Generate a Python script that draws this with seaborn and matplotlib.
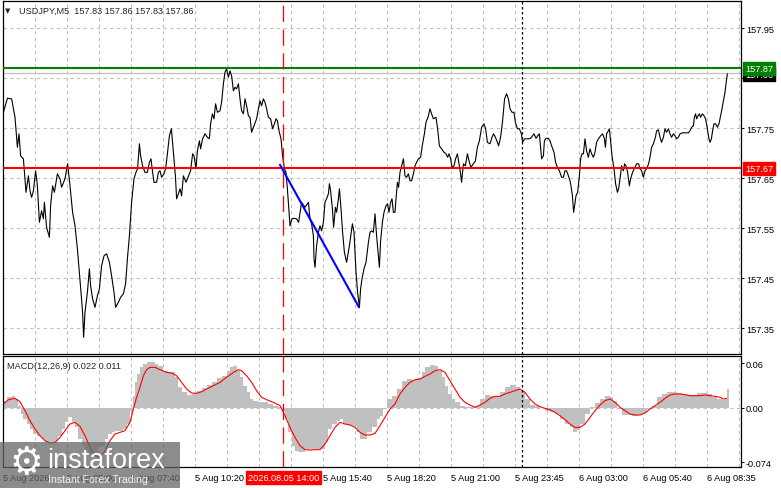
import numpy as np
import matplotlib
matplotlib.use('Agg')
import matplotlib.pyplot as plt
from matplotlib.patches import Rectangle
import seaborn as sns

# USDJPY M5 closes (x = bar number from the left edge)
price_bars = [1.7, 3.7, 5.8, 7.5, 8.7, 9.5, 10.3, 11.7, 13.0, 14.2, 15.0, 15.8, 16.7, 17.8, 18.7, 19.7,
              20.8, 21.7, 22.2, 23.3, 24.7, 25.3, 26.3, 27.2, 28.7, 30.0, 30.8, 32.5, 33.8, 35.0, 36.3,
              37.5, 38.7, 39.7, 40.5, 41.3, 41.8, 42.5, 43.7, 44.7, 45.3, 46.3, 47.5, 48.7, 49.7, 50.8,
              52.0, 53.3, 54.7, 55.8, 57.0, 57.8, 59.2, 60.3, 61.7, 62.8, 63.7, 64.7, 65.8, 67.0, 68.0,
              68.8, 69.7, 70.3, 71.3, 72.5, 73.7, 74.7, 75.5, 76.3, 77.0, 78.3, 79.2, 80.0, 80.8, 82.0,
              82.8, 83.7, 84.7, 85.7, 86.7, 87.7, 88.3, 89.2, 90.0, 90.8, 91.7, 93.0,
              95.3, 96.3, 97.0, 98.0, 98.7, 99.7, 100.3, 101.3, 102.5, 103.7, 104.7, 105.3, 106.2, 107.0,
              107.8, 108.7, 110.0, 110.8, 111.7, 112.5, 113.3, 114.2, 115.0, 115.8, 116.7, 117.5, 118.3,
              119.2, 120.0, 120.8, 121.7, 122.5, 123.3, 124.2, 125.0, 125.8, 127.0, 128.3, 129.2, 130.0,
              130.8, 131.7, 132.5, 133.3, 134.2, 135.3, 136.3, 137.2, 138.0, 138.7, 139.5, 140.5, 141.3,
              142.2, 143.0, 143.7, 144.3, 145.0, 146.0, 147.0, 148.3, 149.3, 150.8, 152.5, 154.2, 155.0,
              155.8, 156.7, 157.0, 157.5, 158.3, 159.2, 160.0, 160.8, 161.7, 162.5, 163.3, 164.2, 164.7,
              165.3, 166.2, 166.8, 167.7, 168.3, 169.2, 169.7, 170.5, 171.3, 172.2, 173.3, 174.7, 176.2,
              177.0, 178.0, 178.8, 179.7, 180.3, 181.0, 182.0, 183.0, 184.2, 185.0,
              185.8, 186.7, 187.5, 188.3, 189.2, 189.7, 190.3, 191.2, 192.0, 193.0, 193.8, 194.5, 195.3,
              196.0, 196.7, 197.5, 198.0, 198.7, 199.3, 200.0, 200.8, 201.7, 202.5, 203.3, 204.2, 205.0,
              205.8, 206.7, 207.5, 208.3, 209.2, 210.3, 211.3, 212.2, 213.0, 214.0, 215.0, 215.8, 216.7,
              218.0, 218.8, 219.7, 220.8, 222.0, 223.0, 223.8, 224.5, 225.3, 226.0, 227.0, 227.8, 228.7,
              229.5, 230.3, 230.8, 231.7, 232.7, 233.7, 234.7, 235.5, 236.7, 237.7, 238.7, 239.7, 240.8,
              242.0, 242.8, 243.7, 245.0, 246.0, 246.8, 247.7, 248.7, 249.3, 250.3, 251.3, 252.3, 253.3,
              254.2, 255.0, 256.0, 257.0, 257.7, 258.7, 259.7, 260.7, 261.3, 262.3, 263.3, 264.3, 265.3,
              266.3, 267.0, 268.0, 268.8, 269.7,
              270.8, 271.7, 272.2, 273.0, 274.2, 275.0, 275.8, 277.0, 277.8, 278.7, 279.7, 280.8, 281.7,
              282.5, 283.3, 284.2, 285.0, 285.5, 286.2, 286.8, 287.3, 288.0, 288.8, 289.7, 290.3, 291.0,
              291.7, 292.5, 293.3, 294.2, 295.0, 295.8, 296.7, 297.5, 298.3, 299.2, 300.3, 301.3, 302.2,
              302.7, 303.3, 304.2, 304.7, 305.3, 306.0, 307.0, 307.8, 308.7, 309.3, 310.0, 310.8, 311.7,
              312.3, 313.0, 313.8, 314.7, 315.3, 316.3, 317.5, 318.3, 319.3, 320.0, 320.8, 321.7, 322.5,
              323.3, 324.3, 325.0, 325.8, 326.7, 327.7, 328.3, 329.2, 330.0, 330.8, 331.7, 332.5, 333.3,
              334.2, 335.0, 335.8, 336.7, 337.5, 338.3, 339.2, 340.0, 341.3, 342.7, 344.2, 345.0, 345.8,
              346.7, 347.2, 347.8, 348.3, 349.0, 349.7, 350.3, 351.2, 352.0, 352.8, 353.7, 354.3, 355.0,
              355.7, 356.3, 357.0, 357.8, 358.7, 359.5, 360.0, 360.8, 361.7, 362.5, 363.0, 363.7]
price_close = [157.782, 157.810, 157.809, 157.772, 157.712, 157.739, 157.695, 157.689, 157.622, 157.655,
               157.625, 157.612, 157.625, 157.665, 157.635, 157.562, 157.585, 157.569, 157.602, 157.552,
               157.532, 157.595, 157.635, 157.622, 157.659, 157.649, 157.632, 157.649, 157.679, 157.635,
               157.582, 157.555, 157.509, 157.462, 157.422, 157.382, 157.332, 157.382, 157.422, 157.469,
               157.435, 157.409, 157.392, 157.415, 157.429, 157.475, 157.495, 157.499, 157.482, 157.455,
               157.422, 157.392, 157.402, 157.412, 157.419, 157.439, 157.489, 157.535, 157.602, 157.649,
               157.662, 157.669, 157.719, 157.695, 157.675, 157.662, 157.662, 157.682, 157.689, 157.662,
               157.642, 157.642, 157.662, 157.665, 157.652, 157.659, 157.669, 157.699, 157.735, 157.749,
               157.702, 157.655, 157.609, 157.619, 157.629, 157.615, 157.655, 157.642,
               157.665, 157.699, 157.695, 157.669, 157.705, 157.725, 157.709, 157.729, 157.739, 157.732,
               157.729, 157.759, 157.779, 157.769, 157.799, 157.782, 157.785, 157.802, 157.839, 157.862,
               157.869, 157.852, 157.865, 157.855, 157.825, 157.832, 157.829, 157.839, 157.809, 157.785,
               157.779, 157.809, 157.795, 157.775, 157.772, 157.742, 157.755, 157.769, 157.789, 157.805,
               157.795, 157.809, 157.802, 157.789, 157.772, 157.769, 157.749, 157.759, 157.769, 157.765,
               157.745, 157.729, 157.695, 157.669, 157.662, 157.629, 157.595, 157.555, 157.569, 157.570,
               157.569, 157.562, 157.602, 157.592, 157.602, 157.569, 157.559, 157.535, 157.489, 157.472,
               157.515, 157.542, 157.555, 157.545, 157.562, 157.602, 157.609, 157.619, 157.639, 157.625,
               157.589, 157.552, 157.592, 157.582, 157.609, 157.629, 157.589, 157.542, 157.502, 157.482,
               157.515, 157.559, 157.542, 157.462, 157.422, 157.392, 157.429, 157.449, 157.469, 157.482,
               157.522, 157.542,
               157.545, 157.542, 157.579, 157.535, 157.495, 157.472, 157.525, 157.562, 157.582, 157.595,
               157.599, 157.582, 157.602, 157.609, 157.582, 157.582, 157.609, 157.642, 157.632, 157.662,
               157.675, 157.689, 157.655, 157.652, 157.659, 157.645, 157.645, 157.659, 157.675, 157.682,
               157.689, 157.692, 157.719, 157.739, 157.762, 157.772, 157.789, 157.779, 157.769, 157.772,
               157.749, 157.715, 157.709, 157.702, 157.699, 157.692, 157.699, 157.689, 157.672, 157.675,
               157.689, 157.699, 157.679, 157.659, 157.642, 157.679, 157.675, 157.699, 157.682, 157.672,
               157.679, 157.685, 157.712, 157.725, 157.752, 157.759, 157.749, 157.722, 157.719, 157.732,
               157.739, 157.732, 157.722, 157.715, 157.732, 157.765, 157.809, 157.819, 157.809, 157.789,
               157.782, 157.782, 157.762, 157.749, 157.749, 157.739, 157.722, 157.729, 157.729, 157.729,
               157.730, 157.735, 157.739, 157.730, 157.735, 157.739,
               157.689, 157.695, 157.725, 157.730, 157.730, 157.725, 157.715, 157.702, 157.682, 157.672,
               157.665, 157.652, 157.652, 157.665, 157.665, 157.655, 157.645, 157.635, 157.615, 157.582,
               157.595, 157.615, 157.622, 157.655, 157.689, 157.699, 157.699, 157.729, 157.705, 157.692,
               157.709, 157.699, 157.692, 157.702, 157.722, 157.729, 157.735, 157.739, 157.729, 157.712,
               157.739, 157.745, 157.749, 157.725, 157.695, 157.669, 157.639, 157.622, 157.629, 157.649,
               157.675, 157.665, 157.679, 157.675, 157.662, 157.635, 157.649, 157.662, 157.672, 157.679,
               157.679, 157.669, 157.665, 157.652, 157.665, 157.669, 157.679, 157.692, 157.712, 157.719,
               157.732, 157.745, 157.747, 157.732, 157.722, 157.732, 157.749, 157.742, 157.749, 157.739,
               157.732, 157.739, 157.735, 157.729, 157.732, 157.739, 157.741, 157.741, 157.741, 157.745,
               157.752, 157.755, 157.772, 157.779, 157.769, 157.775, 157.779, 157.772, 157.779, 157.775,
               157.769, 157.749, 157.732, 157.722, 157.729, 157.745, 157.759, 157.759, 157.752, 157.759,
               157.769, 157.785, 157.805, 157.822, 157.839, 157.859]

# MACD(12,26,9) histogram (grey) and signal line (red)
hist_bars = [1.7, 3.3, 5.8, 7.5, 9.2, 10.3, 11.7, 13.3, 15.0, 16.7, 18.3, 20.8, 22.5, 25.0, 27.5, 29.2,
             30.8, 32.5, 34.2, 35.8, 37.5, 39.2, 40.8, 42.5, 44.2, 45.8, 47.5, 49.2, 50.8, 52.5, 54.2,
             55.8, 57.5, 60.0, 61.7, 63.3, 65.0, 66.3, 67.5, 68.7, 70.0, 71.7, 73.3, 75.8, 77.5, 79.2,
             81.7, 84.2, 85.8, 87.5, 89.2, 90.8, 93.3, 95.8, 98.3, 100.8, 103.3, 105.8, 108.3, 110.8,
             113.3, 115.0, 116.7, 118.3, 120.0, 121.7, 123.3, 125.0, 126.7, 129.2, 131.7, 134.2, 136.7,
             139.2, 140.8, 142.5, 144.2, 145.8, 147.5, 149.2, 150.8, 152.5, 155.0, 157.5, 160.0, 162.5,
             164.2, 165.8, 168.3, 170.0, 171.7, 174.2, 176.7, 178.3, 180.0, 181.7, 183.3, 185.8, 188.3,
             190.0, 191.7, 193.3, 195.8, 198.3, 200.8, 203.3, 205.8, 208.3, 210.8, 212.5, 215.0, 217.5,
             219.2, 220.8, 222.5, 224.2, 225.8, 227.5, 230.0, 232.5, 235.0, 237.5, 240.0, 242.5, 245.0,
             247.5, 250.0, 252.5, 255.0, 257.5, 260.0, 262.5, 265.0, 267.5, 270.0, 272.5, 275.0, 277.5,
             280.0, 282.5, 285.0, 286.7, 288.3, 290.0, 292.5, 295.0, 297.5, 300.0, 302.5, 305.0, 306.7,
             308.3, 310.8, 313.3, 315.8, 318.3, 320.8, 323.3, 325.8, 328.3, 330.8, 333.3, 335.8, 338.3,
             340.8, 343.3, 345.8, 348.3, 350.8, 353.3, 355.8, 358.3, 360.8, 362.5, 363.3, 364.3]
hist_vals = [0.0095, 0.0140, 0.0153, 0.0117, 0.0027, -0.0086, -0.0153, -0.0221, -0.0288, -0.0356,
             -0.0378, -0.0423, -0.0468, -0.0468, -0.0446, -0.0378, -0.0288, -0.0198, -0.0131, -0.0198,
             -0.0266, -0.0423, -0.0513, -0.0581, -0.0626, -0.0626, -0.0603, -0.0536, -0.0513, -0.0423,
             -0.0356, -0.0333, -0.0311, -0.0311, -0.0288, -0.0221, -0.0041, 0.0162, 0.0342, 0.0455,
             0.0545, 0.0590, 0.0612, 0.0621, 0.0590, 0.0567, 0.0500, 0.0477, 0.0477, 0.0410, 0.0275,
             0.0207, 0.0171, 0.0185, 0.0230, 0.0261, 0.0306, 0.0351, 0.0396, 0.0432, 0.0500, 0.0545,
             0.0567, 0.0500, 0.0410, 0.0297, 0.0207, 0.0117, 0.0095, 0.0081, 0.0072, 0.0050, 0.0027,
             0.0005, -0.0041, -0.0153, -0.0333, -0.0513, -0.0581, -0.0603, -0.0594, -0.0558, -0.0558,
             -0.0558, -0.0558, -0.0468, -0.0288, -0.0221, -0.0176, -0.0153, -0.0221, -0.0234, -0.0252,
             -0.0333, -0.0423, -0.0423, -0.0333, -0.0266, -0.0153,
             -0.0108, -0.0018, 0.0117, 0.0153, 0.0252, 0.0365, 0.0387, 0.0378, 0.0396, 0.0477, 0.0545,
             0.0576, 0.0567, 0.0500, 0.0410, 0.0297, 0.0185, 0.0117, 0.0072, 0.0027, 0.0005, 0.0005,
             0.0027, 0.0117, 0.0171, 0.0153, 0.0162, 0.0207, 0.0275, 0.0306, 0.0275, 0.0230, 0.0117,
             0.0036, 0.0027, -0.0009, -0.0041, -0.0054, -0.0086, -0.0153, -0.0221, -0.0266, -0.0333,
             -0.0297, -0.0221, -0.0086, 0.0005, 0.0063, 0.0117, 0.0153, 0.0140, 0.0095, -0.0018, -0.0099,
             -0.0099, -0.0108, -0.0099, -0.0072, -0.0018, 0.0027, 0.0140, 0.0185, 0.0207, 0.0207, 0.0198,
             0.0185, 0.0171, 0.0171, 0.0194, 0.0198, 0.0185, 0.0140, 0.0117, 0.0108, 0.0126, 0.0252,
             0.0252]
signal_bars = [1.7, 4.2, 7.5, 10.0, 12.5, 15.0, 17.5, 20.0, 22.5, 25.0, 27.5, 30.0, 32.5, 35.0, 37.5,
               40.0, 42.5, 45.0, 47.5, 50.0, 52.5, 55.0, 57.5, 60.0, 62.5, 65.0, 66.7, 68.3, 70.0, 71.7,
               73.3, 75.0, 77.5, 80.0, 83.3, 85.8, 88.3, 90.8, 93.3, 95.8, 98.3, 100.8, 103.3, 106.7,
               110.0, 113.3, 116.7, 119.2, 120.8, 123.3, 125.8, 128.3, 130.8, 133.3, 136.7, 140.0, 142.5,
               145.0, 147.5, 150.0, 152.5, 155.0, 157.5, 160.0, 162.5, 165.0, 167.5, 170.0, 172.5, 175.0,
               177.5, 180.0, 182.5, 185.0, 187.5, 190.0, 192.5, 195.0, 197.5, 200.0, 202.5, 205.0, 207.5,
               210.0, 212.5, 215.0, 217.5, 220.0, 222.5, 225.0, 227.5, 230.0, 232.5, 235.0, 237.5, 240.0,
               242.5, 245.0, 247.5, 250.0, 252.5, 255.0, 257.5, 260.0, 262.5, 265.0, 267.5, 270.0, 272.5,
               275.0, 277.5, 280.0, 282.5, 285.0, 287.5, 290.0, 292.5, 295.0, 297.5, 300.0, 302.5, 305.0,
               307.5, 310.0, 312.5, 315.0, 317.5, 320.0, 322.5, 325.0, 327.5, 330.0, 332.5, 335.0, 337.5,
               340.0, 342.5, 345.0, 347.5, 350.0, 352.5, 355.0, 357.5, 360.0, 361.7, 363.3]
signal_vals = [0.0050, 0.0108, 0.0126, 0.0081, -0.0041, -0.0176, -0.0288, -0.0378, -0.0446, -0.0477,
               -0.0468, -0.0401, -0.0311, -0.0221, -0.0198, -0.0252, -0.0378, -0.0536, -0.0648, -0.0671,
               -0.0581, -0.0446, -0.0356, -0.0333, -0.0311, -0.0198, -0.0018, 0.0140, 0.0275, 0.0432,
               0.0513, 0.0545, 0.0545, 0.0513, 0.0477, 0.0468, 0.0432, 0.0342, 0.0252, 0.0198, 0.0194,
               0.0216, 0.0252, 0.0297, 0.0342, 0.0410, 0.0477, 0.0513, 0.0500, 0.0432, 0.0342, 0.0230,
               0.0140, 0.0108, 0.0072, 0.0027, -0.0108, -0.0266, -0.0401, -0.0513, -0.0567, -0.0572,
               -0.0567, -0.0567, -0.0491, -0.0378, -0.0266, -0.0198, -0.0221, -0.0234, -0.0266, -0.0333,
               -0.0369, -0.0369, -0.0347, -0.0243, -0.0131, -0.0018, 0.0050, 0.0185, 0.0275, 0.0342,
               0.0378, 0.0387, 0.0423, 0.0455, 0.0500, 0.0513, 0.0477, 0.0365, 0.0252, 0.0140, 0.0072,
               0.0036, 0.0005, 0.0036, 0.0072, 0.0126, 0.0153, 0.0153, 0.0185, 0.0207, 0.0230, 0.0252,
               0.0207, 0.0117, 0.0050, 0.0014, -0.0009, -0.0027, -0.0063, -0.0108, -0.0162, -0.0221,
               -0.0266, -0.0266, -0.0221, -0.0131, -0.0041, 0.0036, 0.0095, 0.0117, 0.0072, 0.0005,
               -0.0041, -0.0086, -0.0099, -0.0099, -0.0072, -0.0018, 0.0027, 0.0072, 0.0126, 0.0171,
               0.0185, 0.0185, 0.0176, 0.0162, 0.0162, 0.0162, 0.0171, 0.0162, 0.0153, 0.0140, 0.0117,
               0.0126]

# support / resistance levels and the blue trend line
resistance = 157.87
support = 157.67
bid = 157.86
trend_bars = [140.0, 179.5]
trend_prices = [157.677, 157.392]
cross_bar = 141.7
separator_bar = 260.8

x_tick_bars = [1.5, 33.5, 65.5, 97.5, 129.5, 161.5, 193.5, 225.5, 257.5, 289.5, 321.5, 353.5]
x_tick_labels = ['5 Aug 2026', '5 Aug 05:00', '5 Aug 07:40', '5 Aug 10:20', '', '5 Aug 15:40',
                 '5 Aug 18:20', '5 Aug 21:00', '5 Aug 23:45', '6 Aug 03:00', '6 Aug 05:40', '6 Aug 08:35']
price_ticks = [157.35, 157.45, 157.55, 157.65, 157.75, 157.85, 157.95]
price_labels = ['157.35', '157.45', '157.55', '157.65', '157.75', '', '157.95']
macd_ticks = [-0.074, 0.0, 0.06]
macd_labels = ['-0.074', '0.00', '0.06']

sns.set_style('white')
plt.rcParams['font.family'] = ['Liberation Sans', 'DejaVu Sans']
FS = 6.6
grid_kw = dict(color='#c0c0c0', lw=0.8, ls=(0, (3, 3)), zorder=0)
cross_ls = (0, (13, 6))

fig = plt.figure(figsize=(7.81, 4.89), dpi=100)
W, H = 781, 489
ax = fig.add_axes([2.5 / W, (H - 355) / H, 738 / W, 353 / H])
axm = fig.add_axes([2.5 / W, (H - 467.7) / H, 738 / W, 110.7 / H])

grid_x = np.arange(17.5, 370, 16)
for a in (ax, axm):
    a.set_xlim(1.25, 370.25)
    for gx in grid_x:
        a.axvline(gx, **grid_kw)
    for s in a.spines.values():
        s.set_color('black')
        s.set_linewidth(0.9)
    a.yaxis.tick_right()
    a.tick_params(axis='y', direction='out', length=2.5, width=0.7, pad=1.5, labelsize=FS, colors='black')

# ---- price panel
ax.set_ylim(157.2986, 158.0046)
for p in price_ticks:
    ax.axhline(p, **grid_kw)
ax.set_yticks(price_ticks)
ax.set_yticklabels(price_labels)
ax.set_xticks([])

ax.axhline(bid, color='#c0c0c0', lw=0.9, zorder=1)
ax.axhline(resistance, color='#008000', lw=1.5, zorder=3)
ax.axhline(support, color='#ff0000', lw=1.5, zorder=3)
sns.lineplot(x=price_bars, y=price_close, ax=ax, color='black', lw=0.8, estimator=None, zorder=2)
sns.lineplot(x=trend_bars, y=trend_prices, ax=ax, color='#0000ff', lw=1.5, estimator=None, zorder=4)
ax.axvline(cross_bar, color='#ff0000', lw=0.9, ls=cross_ls, zorder=3)
ax.axvline(separator_bar, color='black', lw=0.9, ls=(0, (2, 2)), zorder=3)

ytr = ax.get_yaxis_transform()
ax.text(1.006, bid - 0.0025, '157.86', transform=ytr, color='white', fontsize=FS, va='center', ha='left',
        bbox=dict(boxstyle='square,pad=0.25', fc='black', ec='black'), clip_on=False, zorder=5)
ax.text(1.006, resistance, '157.87', transform=ytr, color='white', fontsize=FS, va='center', ha='left',
        bbox=dict(boxstyle='square,pad=0.25', fc='#008000', ec='#008000'), clip_on=False, zorder=6)
ax.text(1.006, support, '157.67', transform=ytr, color='white', fontsize=FS, va='center', ha='left',
        bbox=dict(boxstyle='square,pad=0.25', fc='#ff0000', ec='#ff0000'), clip_on=False, zorder=6)

# ---- MACD panel
axm.set_ylim(-0.0797, 0.0698)
axm.axhline(0, **grid_kw)
axm.fill_between(hist_bars, 0, hist_vals, step='post', color='#c0c0c0', lw=0, zorder=1)
sns.lineplot(x=signal_bars, y=signal_vals, ax=axm, color='#ff0000', lw=0.8, estimator=None, zorder=2)
axm.axvline(cross_bar, color='#ff0000', lw=0.9, ls=cross_ls, zorder=3)
axm.axvline(separator_bar, color='black', lw=0.9, ls=(0, (2, 2)), zorder=3)
axm.set_yticks(macd_ticks)
axm.set_yticklabels(macd_labels)
axm.set_xticks(x_tick_bars)
axm.set_xticklabels(x_tick_labels, ha='left')
axm.tick_params(axis='x', direction='out', length=3, width=0.7, pad=1.5, labelsize=FS, colors='black')
axm.set_xlabel('')
axm.set_ylabel('')
ax.set_xlabel('')
ax.set_ylabel('')
axm.text(0.006, 0.918, 'MACD(12,26,9) 0.022 0.011', transform=axm.transAxes, fontsize=FS, va='center')
axm.text(cross_bar, -0.095, '2026.08.05 14:00', transform=axm.get_xaxis_transform(), color='white',
         fontsize=FS, ha='center', va='center', clip_on=False,
         bbox=dict(boxstyle='square,pad=0.2', fc='#ff0000', ec='#ff0000'), zorder=6)

# ---- header and watermark
fig.text(7.5 / W, 1 - 11 / H, '\u25bc', fontsize=5, va='center', ha='center', family='DejaVu Sans')
fig.text(19 / W, 1 - 11 / H, 'USDJPY,M5  157.83 157.86 157.83 157.86', fontsize=FS, va='center', ha='left')

fig.add_artist(Rectangle((0, 0), 180 / W, 46 / H, transform=fig.transFigure, fc='#666666', alpha=0.75,
                         ec='none', zorder=10))
fig.text(26 / W, 1 - 464 / H, '\u2699', fontsize=27, color='white', va='center', ha='center',
         family='DejaVu Sans', zorder=11)
fig.text(47 / W, 1 - 461 / H, 'instaforex', fontsize=19.5, color='white', va='center', ha='left', zorder=11)
fig.text(48 / W, 1 - 480 / H, 'Instant Forex Trading', fontsize=7.6, color='white', alpha=0.9,
         va='center', ha='left', zorder=11)

fig.savefig('out.png', dpi=100)
